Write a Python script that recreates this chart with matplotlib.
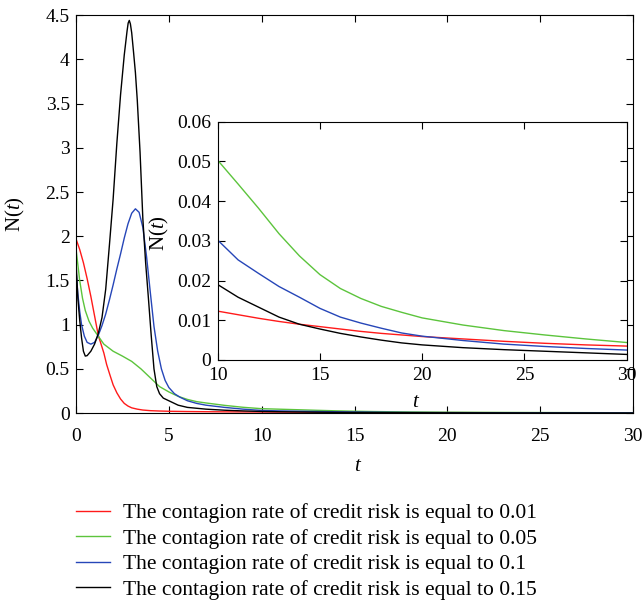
import matplotlib
matplotlib.use("Agg")
import matplotlib.pyplot as plt
from matplotlib.ticker import FormatStrFormatter
from matplotlib.lines import Line2D

plt.rcParams['font.family'] = ['Liberation Serif', 'DejaVu Serif']
plt.rcParams['mathtext.fontset'] = 'custom'
plt.rcParams['mathtext.rm'] = 'Liberation Serif'
plt.rcParams['mathtext.it'] = 'Liberation Serif:italic'

# Data
labels = ["The contagion rate of credit risk is equal to 0.01",
          "The contagion rate of credit risk is equal to 0.05",
          "The contagion rate of credit risk is equal to 0.1",
          "The contagion rate of credit risk is equal to 0.15"]
colors = ["#ff1a1a", "#5cc43c", "#2646b8", "#000000"]

# tail (shared t values, used by main plot and inset)
t_tail = [11, 12, 13, 14, 15, 16, 17, 18, 19, 20, 22, 24, 26, 28, 30]

t_red = [0, 0.2, 0.4, 0.6, 0.8, 1.0, 1.2, 1.35, 1.5, 1.65, 1.83, 2.0, 2.2, 2.4, 2.6,
         2.8, 3.0, 3.3, 3.6, 4.0, 4.5, 5, 6, 7, 8, 9, 10]
n_red = [1.97, 1.85, 1.70, 1.52, 1.32, 1.10, 0.88, 0.78, 0.68, 0.55, 0.43, 0.32, 0.23, 0.16, 0.11,
         0.08, 0.06, 0.045, 0.035, 0.028, 0.024, 0.021, 0.018, 0.016, 0.0145, 0.0133, 0.0123]
n_red_tail = [0.0114, 0.0105, 0.0097, 0.0090, 0.0084, 0.0078, 0.0072, 0.0067, 0.0063,
              0.0059, 0.0053, 0.0047, 0.0042, 0.0038, 0.0035]

t_green = [0, 0.1, 0.2, 0.35, 0.5, 0.7, 0.9, 1.2, 1.5, 2.0, 2.5, 3.0, 3.5, 4.0, 4.5,
           5.0, 5.5, 6.0, 6.5, 7, 8, 9, 10]
n_green = [1.86, 1.68, 1.50, 1.30, 1.16, 1.04, 0.96, 0.87, 0.78, 0.70, 0.645, 0.585, 0.50, 0.40, 0.30,
           0.24, 0.19, 0.155, 0.13, 0.115, 0.088, 0.066, 0.0503]
n_green_tail = [0.0443, 0.0382, 0.0318, 0.0262, 0.0215, 0.0180, 0.0155, 0.0135, 0.0120,
                0.0106, 0.0088, 0.0074, 0.0063, 0.0053, 0.0044]

t_blue = [0, 0.1, 0.2, 0.3, 0.45, 0.6, 0.8, 1.0, 1.2, 1.4, 1.6, 1.8, 2.0, 2.2, 2.4, 2.6,
          2.8, 3.0, 3.2, 3.4, 3.6, 3.8, 4.0, 4.2, 4.4, 4.6, 4.8, 5.0, 5.3, 5.6, 6.0,
          6.5, 7, 8, 9, 10]
n_blue = [1.62, 1.35, 1.15, 1.00, 0.87, 0.80, 0.78, 0.80, 0.88, 0.99, 1.12, 1.28, 1.45, 1.63, 1.80, 1.98,
          2.14, 2.26, 2.31, 2.27, 2.10, 1.77, 1.37, 0.98, 0.70, 0.50, 0.37, 0.29, 0.22, 0.18, 0.14,
          0.11, 0.09, 0.065, 0.045, 0.0302]
n_blue_tail = [0.0252, 0.0218, 0.0185, 0.0158, 0.0130, 0.0108, 0.0093, 0.0080, 0.0068,
               0.0060, 0.0049, 0.0040, 0.0034, 0.0029, 0.0025]

t_black = [0, 0.1, 0.2, 0.3, 0.4, 0.5, 0.6, 0.8, 1.0, 1.2, 1.4, 1.6, 1.8, 2.0, 2.2, 2.4,
           2.6, 2.75, 2.81, 2.87, 2.93, 3.0, 3.1, 3.2, 3.3, 3.45, 3.6, 3.75, 3.9, 4.05, 4.2, 4.35,
           4.5, 4.7, 5.0, 5.5, 6, 7, 8, 9, 10]
n_black = [1.72, 1.30, 1.05, 0.85, 0.70, 0.645, 0.65, 0.70, 0.78, 0.90, 1.08, 1.40, 1.90, 2.42, 3.05, 3.60,
           4.05, 4.32, 4.41, 4.44, 4.40, 4.30, 4.08, 3.85, 3.54, 2.95, 2.20, 1.70, 1.30, 0.88, 0.50, 0.30,
           0.22, 0.17, 0.14, 0.09, 0.065, 0.045, 0.033, 0.025, 0.019]
n_black_tail = [0.0158, 0.0133, 0.0108, 0.0090, 0.0078, 0.0067, 0.0058, 0.0050, 0.0043,
                0.0038, 0.0031, 0.0026, 0.0022, 0.0018, 0.0014]

series = [(t_red, n_red, n_red_tail),
          (t_green, n_green, n_green_tail),
          (t_blue, n_blue, n_blue_tail),
          (t_black, n_black, n_black_tail)]

fig = plt.figure(figsize=(6.44, 6.04), dpi=100)

# main axes
ax = fig.add_axes([0.118, 0.316, 0.865, 0.659])
for (tt, nn, tail), c in zip(series, colors):
    ax.plot(list(tt) + t_tail, list(nn) + tail, color=c, lw=1.0)
ax.set_xlim(0, 30)
ax.set_ylim(0, 4.5)
ax.set_xticks(range(0, 31, 5))
ax.set_yticks([i * 0.5 for i in range(10)])
ax.xaxis.set_major_formatter(FormatStrFormatter('%g'))
ax.yaxis.set_major_formatter(FormatStrFormatter('%g'))
ax.tick_params(direction='in', top=True, right=True, length=5, labelsize=14)
ax.tick_params(axis='x', pad=11)
ax.tick_params(axis='y', pad=4.5)
ax.set_xlabel('t', fontstyle='italic', fontsize=15)
ax.xaxis.label.set_va('baseline')
ax.xaxis.set_label_coords(0.505, -0.146)
ax.set_ylabel('N($\\mathit{t}$)', fontsize=15)
ax.yaxis.set_label_coords(-0.088, 0.5)

# inset
ins = fig.add_axes([0.338, 0.404, 0.635, 0.3945])
for (tt, nn, tail), c in zip(series, colors):
    ins.plot([tt[-1]] + t_tail, [nn[-1]] + tail, color=c, lw=1.0)
ins.set_xlim(10, 30)
ins.set_ylim(0, 0.06)
ins.set_xticks([10, 15, 20, 25, 30])
ins.set_yticks([0, 0.01, 0.02, 0.03, 0.04, 0.05, 0.06])
ins.xaxis.set_major_formatter(FormatStrFormatter('%g'))
ins.yaxis.set_major_formatter(FormatStrFormatter('%g'))
ins.tick_params(direction='in', top=True, right=True, length=5, labelsize=14)
ins.tick_params(axis='x', pad=5)
ins.tick_params(axis='y', pad=4.5)
ins.set_xlabel('t', fontstyle='italic', fontsize=15)
ins.xaxis.label.set_va('baseline')
ins.xaxis.set_label_coords(0.482, -0.197)
ins.set_ylabel('N($\\mathit{t}$)', fontsize=15)
ins.yaxis.set_label_coords(-0.114, 0.533)

# legend below the plot
handles = [Line2D([], [], color=c, lw=1.0) for c in colors]
fig.legend(handles, labels, loc='upper left', bbox_to_anchor=(0.118, 0.167),
           frameon=False, fontsize=15.5, handlelength=1.58, handletextpad=0.6,
           labelspacing=0.25, borderpad=0, borderaxespad=0)

fig.savefig('out.png', dpi=100)
